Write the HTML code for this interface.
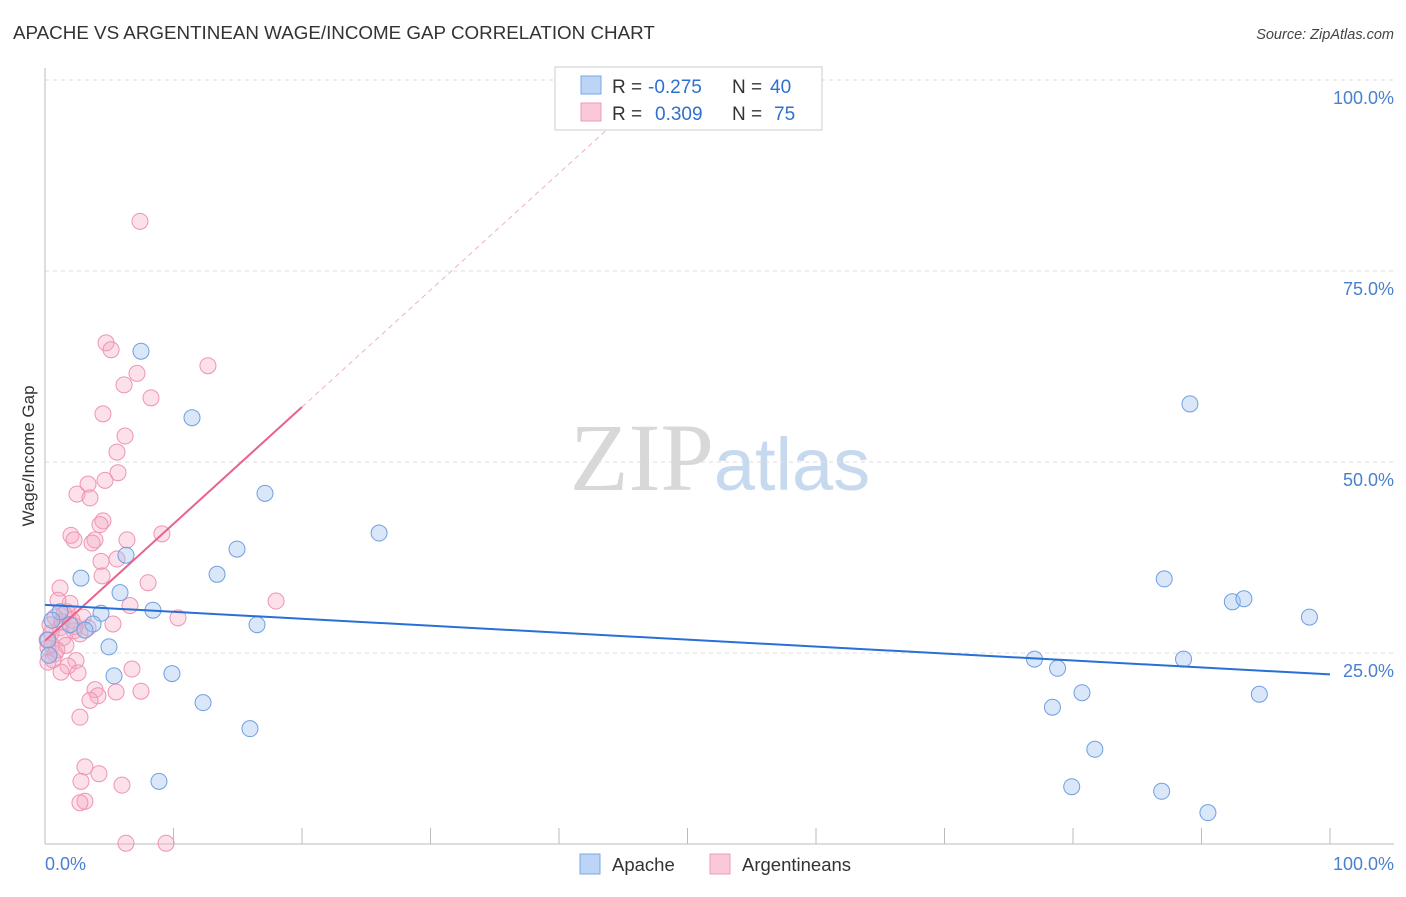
<!DOCTYPE html>
<html><head><meta charset="utf-8"><style>
body{margin:0;background:#fff;font-family:"Liberation Sans",sans-serif;}
svg text{font-family:"Liberation Sans",sans-serif;}
</style></head><body>
<svg id="chart" width="1406" height="892" xmlns="http://www.w3.org/2000/svg">
<text x="13" y="39" font-size="18.8" fill="#333">APACHE VS ARGENTINEAN WAGE/INCOME GAP CORRELATION CHART</text>
<text x="1394" y="39" font-size="14.5" fill="#444" font-style="italic" text-anchor="end">Source: ZipAtlas.com</text>
<text x="720" y="490" font-size="96" text-anchor="middle"><tspan fill="#d8d8d8" font-family="Liberation Serif">ZIP</tspan><tspan fill="#c7d9ef" font-size="74">atlas</tspan></text>
<g id="grid"></g>
<line x1="45" y1="844" x2="1394" y2="844" stroke="#bbb"/>
<line x1="45" y1="68" x2="45" y2="844" stroke="#bbb"/>
<text transform="translate(34,456) rotate(-90)" font-size="17" fill="#333" text-anchor="middle">Wage/Income Gap</text>
<text x="45" y="870" font-size="18" fill="#4a7fd0">0.0%</text>
<text x="1394" y="870" font-size="18" fill="#4a7fd0" text-anchor="end">100.0%</text>
<g id="points"></g>
<g id="trends"></g>
<g>
<rect x="555" y="67" width="267" height="63" fill="#fff" stroke="#ccc"/>
<rect x="581" y="76" width="20" height="18" fill="#bcd4f5" stroke="#7aa7e3"/>
<rect x="581" y="103" width="20" height="18" fill="#fbc8d8" stroke="#ef9ab7"/>
<text x="612" y="93" font-size="19" fill="#333">R = <tspan fill="#2f6fd0" x="648">-0.275</tspan><tspan x="732">N = </tspan><tspan fill="#2f6fd0" x="770">40</tspan></text>
<text x="612" y="120" font-size="19" fill="#333">R = <tspan fill="#2f6fd0" x="655">0.309</tspan><tspan x="732">N = </tspan><tspan fill="#2f6fd0" x="774">75</tspan></text>
</g>
<g><rect x="580" y="854" width="20" height="20" fill="#bcd4f5" stroke="#7aa7e3"/><text x="612" y="871" font-size="18.5" fill="#333">Apache</text></g>
<g><rect x="710" y="854" width="20" height="20" fill="#fbc8d8" stroke="#ef9ab7"/><text x="742" y="871" font-size="18.5" fill="#333">Argentineans</text></g>
</svg>
<script>
const yTicks=[25,50,75,100];
const yTickLabels=["25.0%","50.0%","75.0%","100.0%"];
const xTicks=[0,10,20,30,40,50,60,70,80,90,100];
const apacheX=[7.47,11.44,17.12,26.0,14.94,6.30,2.80,13.39,5.84,8.40,4.36,3.74,16.5,4.98,5.37,9.88,12.3,15.95,8.87,1.17,89.1,87.1,92.4,93.3,98.4,77.0,78.8,88.6,80.7,78.4,94.5,81.7,79.9,86.9,90.5,0.23,0.54,1.95,3.11,0.31];
const apacheY=[64.5,55.8,45.9,40.7,38.6,37.8,34.8,35.3,32.9,30.6,30.2,28.8,28.7,25.8,22.0,22.3,18.5,15.1,8.2,30.4,57.6,34.7,31.7,32.1,29.7,24.2,23.0,24.2,19.8,17.9,19.6,12.4,7.5,6.9,4.1,26.7,29.3,28.7,28.0,24.7];
const argX=[7.39,4.75,5.14,12.68,7.16,6.15,8.25,4.51,6.23,5.60,5.68,4.67,3.35,2.49,3.50,4.51,4.28,2.02,2.26,3.89,3.66,6.38,9.10,5.60,4.36,4.44,8.02,1.17,6.61,1.95,17.98,10.35,1.71,0.78,2.96,5.29,2.26,1.17,0.47,1.40,2.72,0.54,1.63,0.23,0.78,0.23,2.41,6.77,1.79,2.57,3.89,4.12,5.53,7.47,2.72,3.11,4.20,2.80,5.99,3.11,2.72,6.30,9.42,0.93,0.39,0.16,1.01,1.32,2.10,3.35,0.62,1.25,3.50,1.48,2.33];
const argY=[81.5,65.6,64.7,62.6,61.6,60.1,58.4,56.3,53.4,51.3,48.6,47.6,47.1,45.8,45.3,42.3,41.8,40.4,39.8,39.8,39.4,39.8,40.6,37.3,37.0,35.1,34.2,33.5,31.2,31.5,31.8,29.6,30.4,29.7,29.7,28.8,27.9,28.3,27.6,27.0,27.5,26.0,26.0,25.7,24.9,23.8,24.0,22.9,23.3,22.4,20.2,19.4,19.9,20.0,16.6,10.1,9.2,8.2,7.7,5.6,5.4,0.1,0.1,25.4,28.7,26.7,31.9,29.1,29.3,28.3,24.1,22.5,18.8,30.1,28.5];
const apacheTrend=[31.3,22.2]; // y at x=0 and x=100
const argTrend=[26.6,57.2];    // y at x=0 and x=20
const NS="http://www.w3.org/2000/svg";
const X=v=>45+v*12.85, Y=v=>844-v*7.64;
function mk(t,a,p){const e=document.createElementNS(NS,t);for(const k in a)e.setAttribute(k,a[k]);p.appendChild(e);return e;}
const grid=document.getElementById('grid');
yTicks.forEach((t,i)=>{
 const l=mk('line',{x1:45,x2:1394,y1:Y(t),y2:Y(t),stroke:'#ddd','stroke-dasharray':'4,4'},grid);
 
 
 const tx=mk('text',{x:1394,y:Y(t)+24,'font-size':18,fill:'#4a7fd0','text-anchor':'end'},grid);
 tx.textContent=yTickLabels[i];
 
 
});
xTicks.forEach(t=>{
 const l=mk('line',{x1:X(t),x2:X(t),y1:828,y2:844,stroke:'#bbb'},grid);
 
 
});
const pts=document.getElementById('points');
argX.forEach((x,i)=>{
 const c=mk('circle',{cx:X(x),cy:Y(argY[i]),r:8,fill:'rgba(246,170,196,0.35)',stroke:'#ee94b2','stroke-width':1},pts);
 
 
});
apacheX.forEach((x,i)=>{
 const c=mk('circle',{cx:X(x),cy:Y(apacheY[i]),r:8,fill:'rgba(160,195,240,0.4)',stroke:'#6f9fe0','stroke-width':1},pts);
 
 
});
const tr=document.getElementById('trends');
const slope=(argTrend[1]-argTrend[0])/20;
const d=mk('line',{x1:X(20),y1:Y(argTrend[1]),x2:X(44),y2:Y(argTrend[0]+slope*44),stroke:'#f0b0c4','stroke-dasharray':'5,4','stroke-width':1},tr);


const p=mk('line',{x1:X(0),y1:Y(argTrend[0]),x2:X(20),y2:Y(argTrend[1]),stroke:'#e8628e','stroke-width':2},tr);


const b=mk('line',{x1:X(0),y1:Y(apacheTrend[0]),x2:X(100),y2:Y(apacheTrend[1]),stroke:'#2a6fd6','stroke-width':2},tr);


</script>
</body></html>
